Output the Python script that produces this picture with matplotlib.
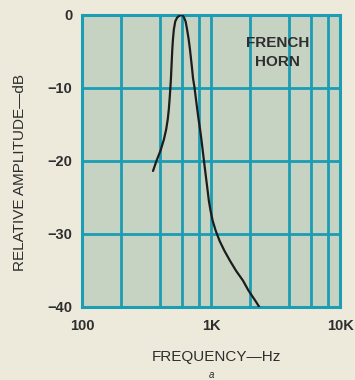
import matplotlib.pyplot as plt
from matplotlib.ticker import FixedLocator, NullLocator

# response curve of the french horn (rising flank, peak, falling flank)
freq_hz = [355, 378, 406, 431, 449, 462, 471, 478, 484, 489, 493, 497, 501,
           507, 515, 528, 545, 570, 584,
           604, 618, 635, 652, 670, 686, 699, 712, 725, 745, 762, 781, 800,
           822, 842, 862, 881, 901, 920, 941, 962, 990, 1028, 1087, 1166,
           1266, 1401, 1565, 1764, 1952, 2206, 2357]
level_db = [-21.4, -20.0, -18.6, -17.1, -15.7, -14.3, -12.9, -11.4, -10.0,
            -8.7, -7.3, -6.0, -4.7, -3.3, -2.0, -0.9, -0.4, -0.1, 0.0,
            -0.1, -0.4, -0.9, -2.0, -3.3, -4.7, -6.0, -7.3, -8.7, -10.0,
            -11.4, -12.9, -14.3, -15.7, -17.1, -18.6, -20.0, -21.4, -22.7,
            -24.1, -25.5, -26.8, -28.2, -29.6, -31.0, -32.3, -33.7, -35.1,
            -36.4, -37.8, -39.2, -40.0]

grid_freqs = [200, 400, 600, 800, 1000, 2000, 4000, 6000, 8000]
x_ticks = [100, 1000, 10000]
x_labels = ["100", "1K", "10K"]
y_ticks = [0, -10, -20, -30, -40]
y_labels = ["0", "\u221210", "\u221220", "\u221230", "\u221240"]

paper = "#eeeadb"
panel = "#c6d3c3"
teal = "#1b9db4"
ink = "#2e2e2e"

plt.rcParams['font.family'] = ['Liberation Sans', 'DejaVu Sans']

fig = plt.figure(figsize=(3.55, 3.8), dpi=100, facecolor=paper)
ax = fig.add_axes([0.231, 0.193, 0.727, 0.768])
ax.set_facecolor(panel)
ax.set_xscale("log")
ax.set_xlim(100, 10000)
ax.set_ylim(-40, 0)

for f in grid_freqs:
    ax.axvline(f, color=teal, lw=2.0, zorder=1)
for v in [-10, -20, -30]:
    ax.axhline(v, color=teal, lw=2.0, zorder=1)
for s in ax.spines.values():
    s.set_color(teal)
    s.set_linewidth(2.2)

ax.plot(freq_hz, level_db, color="#1c1c1c", lw=1.6, zorder=3,
        solid_joinstyle="round", solid_capstyle="round")

ax.xaxis.set_major_locator(FixedLocator(x_ticks))
ax.xaxis.set_minor_locator(NullLocator())
ax.set_xticklabels(x_labels)
ax.set_yticks(y_ticks)
ax.set_yticklabels(y_labels)
ax.tick_params(length=0, labelsize=10.5, colors=ink)
ax.tick_params(axis="x", pad=9)
ax.tick_params(axis="y", pad=7)
for lab in ax.get_xticklabels() + ax.get_yticklabels():
    lab.set_fontweight("bold")

ax.text(0.758, 0.871, "FRENCH\nHORN", transform=ax.transAxes, ha="center",
        va="center", fontsize=11, fontweight="bold", color=ink,
        linespacing=1.45)

fig.text(0.056, 0.547, "RELATIVE AMPLITUDE\u2014dB", rotation=90, ha="center",
         va="center", fontsize=11, color=ink)
fig.text(0.61, 0.06, "FREQUENCY\u2014Hz", ha="center", va="center",
         fontsize=11, color=ink)
fig.text(0.597, 0.013, "a", ha="center", va="center", fontsize=7,
         style="italic", color=ink)

fig.savefig("out.png", dpi=100, facecolor=paper)
